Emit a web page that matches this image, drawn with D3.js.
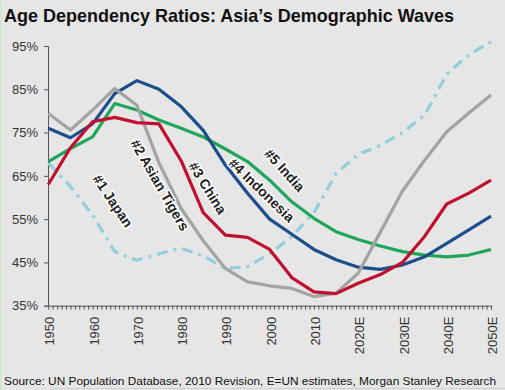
<!DOCTYPE html>
<html>
<head>
<meta charset="utf-8">
<script src="https://cdn.jsdelivr.net/npm/d3@7"></script>
<style>
  body { margin: 0; background: #e6e6e6; }
  svg { display: block; font-family: "Liberation Sans", Arial, sans-serif; }
</style>
</head>
<body>
<div id="chart"></div>
<script>
// data, 5-year steps
const years = [1950, 1955, 1960, 1965, 1970, 1975, 1980, 1985, 1990, 1995, 2000,
  2005, 2010, 2015, 2020, 2025, 2030, 2035, 2040, 2045, 2050];

const japan = [68, 62.5, 56, 47.5, 45.5, 47, 48.3, 46.5, 43.6, 44, 47,
  51, 56.5, 65.5, 70, 72, 75, 79, 88.5, 93, 96];
const asianTigers = [79.4, 75.6, 80.2, 85.2, 81.3, 68, 57.5, 50, 43.6, 40.5, 39.6,
  39, 37.1, 37.9, 42.5, 52, 61.5, 68.6, 75.2, 79.5, 83.7];
const china = [63, 71.5, 77.5, 78.5, 77.3, 77, 68.5, 56.5, 51.3, 50.8, 48,
  41.5, 38.2, 37.8, 40.2, 42.2, 45, 51, 58.5, 61, 64];
const indonesia = [76, 73.8, 77, 84, 87, 85, 81, 75.5, 67.5, 61, 55,
  51.5, 48, 45.6, 43.9, 43.4, 44.4, 46.3, 49.4, 52.5, 55.7];
const india = [68.3, 71.3, 74, 81.7, 80.2, 77.9, 76, 74, 71.2, 68.3, 64,
  59, 55.2, 52.1, 50.3, 48.8, 47.5, 46.7, 46.3, 46.7, 48];

const yTicks = [35, 45, 55, 65, 75, 85, 95];
const xTickYears = [1950, 1960, 1970, 1980, 1990, 2000, 2010, 2020, 2030, 2040, 2050];
const xTickLabels = ['1950', '1960', '1970', '1980', '1990', '2000', '2010',
  '2020E', '2030E', '2040E', '2050E'];

const seriesNames = ['#1 Japan', '#2 Asian Tigers', '#3 China', '#4 Indonesia', '#5 India'];
const seriesValues = [japan, asianTigers, china, indonesia, india];
// label anchors in data units (year, value) and rotation
const labelYears = [1964.6, 1975.2, 1986, 1998.2, 2003.4];
const labelValues = [59.2, 62.9, 62.2, 61.7, 66.3];
const labelAngles = [56, 60, 58, 44, 48];

const colors = ['#92cfdb', '#a3a3a3', '#c0102e', '#1b4e8a', '#1fa65a'];
const drawOrder = [0, 4, 3, 1, 2];

const width = 505;
const height = 390;
const margin = { top: 46, right: 14, bottom: 84, left: 48 };

const svg = d3.select('#chart').append('svg')
  .attr('width', width)
  .attr('height', height);

svg.append('rect')
  .attr('width', width)
  .attr('height', height)
  .attr('fill', '#e6e6e6');
svg.append('rect')
  .attr('width', 2)
  .attr('height', height)
  .attr('fill', '#d6e6d2');
svg.append('line')
  .attr('x1', 50).attr('x2', width)
  .attr('y1', 388.5).attr('y2', 388.5)
  .attr('stroke', '#cfcfcf');

svg.append('text')
  .attr('x', 4)
  .attr('y', 22)
  .attr('font-size', 17.8)
  .attr('font-weight', 'bold')
  .attr('fill', '#111')
  .attr('textLength', 450)
  .attr('lengthAdjust', 'spacingAndGlyphs')
  .text('Age Dependency Ratios: Asia\u2019s Demographic Waves');

const x = d3.scaleLinear()
  .domain([1950, 2050])
  .range([margin.left + 0.3, width - margin.right]);
const y = d3.scaleLinear()
  .domain([35, 95])
  .range([height - margin.bottom - 0.3, margin.top]);

// y axis
const yAxis = svg.append('g')
  .attr('transform', `translate(${margin.left},0)`)
  .call(d3.axisLeft(y).tickValues(yTicks).tickSize(4).tickPadding(6)
    .tickFormat(d => `${d}%`));
yAxis.select('.domain').attr('stroke', '#555');
yAxis.selectAll('.tick line').attr('stroke', '#555');
yAxis.selectAll('text')
  .attr('font-size', 13)
  .attr('fill', '#333')
  .attr('font-family', '"Liberation Sans", Arial, sans-serif');

// x axis, one tick per year
const xAxis = svg.append('g')
  .attr('transform', `translate(0,${y(35)})`)
  .call(d3.axisBottom(x).tickValues(d3.range(1950, 2051)).tickSize(4)
    .tickSizeOuter(0).tickFormat(''));
xAxis.select('.domain').attr('stroke', '#555');
xAxis.selectAll('.tick line').attr('stroke', '#555');

svg.append('g')
  .selectAll('text')
  .data(xTickYears)
  .join('text')
  .attr('transform', d => `translate(${x(d) + 1.5},${y(35) + 11}) rotate(-90)`)
  .attr('dy', '0.35em')
  .attr('text-anchor', 'end')
  .attr('font-size', 13)
  .attr('fill', '#333')
  .text((d, i) => xTickLabels[i]);

const line = d3.line()
  .x((d, i) => x(years[i]))
  .y(d => y(d));

svg.append('g')
  .selectAll('path')
  .data(drawOrder)
  .join('path')
  .attr('d', i => line(seriesValues[i]))
  .attr('fill', 'none')
  .attr('stroke', i => colors[i])
  .attr('stroke-width', 3.2)
  .attr('stroke-linejoin', 'round')
  .attr('stroke-dasharray', i => (i === 0 ? '11,6,3,6' : null));

svg.append('g')
  .selectAll('text')
  .data(seriesNames)
  .join('text')
  .attr('transform', (d, i) =>
    `translate(${x(labelYears[i])},${y(labelValues[i])}) rotate(${labelAngles[i]})`)
  .attr('text-anchor', 'middle')
  .attr('dy', '0.35em')
  .attr('font-family', '"Liberation Sans Narrow", "Arial Narrow", sans-serif')
  .attr('font-weight', 'bold')
  .attr('font-size', 14)
  .attr('fill', '#222')
  .attr('stroke', '#fff')
  .attr('stroke-width', 3)
  .attr('stroke-linejoin', 'round')
  .attr('paint-order', 'stroke')
  .text(d => d);

svg.append('text')
  .attr('x', 4)
  .attr('y', 385)
  .attr('font-size', 11.8)
  .attr('fill', '#111')
  .attr('textLength', 492)
  .attr('lengthAdjust', 'spacingAndGlyphs')
  .text('Source: UN Population Database, 2010 Revision, E=UN estimates, Morgan Stanley Research');
</script>
</body>
</html>
